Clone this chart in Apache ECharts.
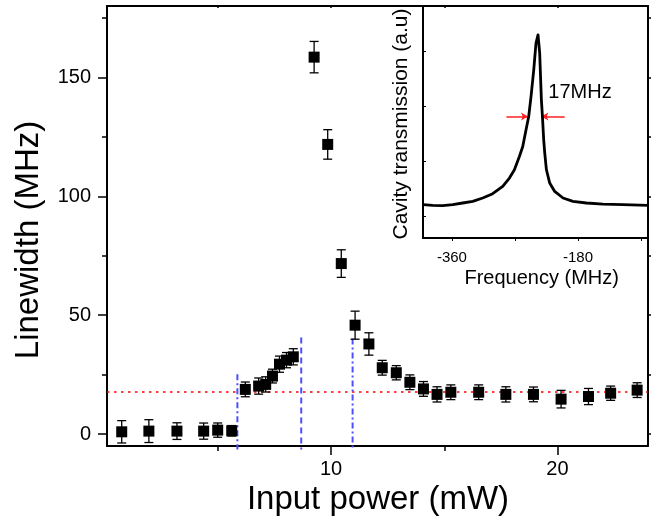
<!DOCTYPE html>
<html>
<head>
<meta charset="utf-8">
<script src="https://cdn.jsdelivr.net/npm/echarts@6/dist/echarts.min.js"></script>
<style>html,body{margin:0;padding:0;background:#fff;}#c{width:656px;height:523px;}</style>
</head>
<body>
<div id="c"></div>
<script>
// ---- main panel data ----
const inputPower = [0.75,1.95,3.19,4.37,4.99,5.61,6.21,6.80,7.11,7.41,7.72,8.03,8.33,9.25,9.85,10.45,11.06,11.67,12.26,12.88,13.48,14.08,14.68,15.29,16.52,17.72,18.94,20.16,21.37,22.35,23.52];
const linewidth = [0.97,1.26,1.26,1.26,1.68,1.39,18.8,20.2,20.9,24.4,29.4,31.1,32.5,158.5,121.8,71.7,45.8,37.9,27.9,25.8,21.8,19.0,16.7,17.6,17.6,16.7,16.7,14.7,15.8,17.2,18.5];
const linewidthErr = [4.7,4.8,3.5,3.4,3.0,2.2,3.1,3.4,3.2,2.9,3.4,3.2,3.4,6.6,6.2,5.8,5.9,4.7,3.1,3.0,3.1,3.1,3.2,3.1,3.1,3.2,3.1,3.7,3.4,3.0,3.1];
const refLinewidth = 17.7;
const vLineX = [5.86, 8.68, 10.95];
const vLineTop = [25.2, 40.6, 40.2];
const xMajorTicks = [10, 20];
const xMinorTicks = [5, 15];
const yMajorTicks = [0, 50, 100, 150];
const yMinorTicks = [25, 75, 125, 175];

// ---- inset data ----
const insetFreq = [-401.3,-387.4,-373.1,-358.9,-344.6,-330.3,-316.0,-301.8,-287.5,-277.9,-270.8,-263.7,-258.9,-254.2,-250.4,-247.1,-243.2,-240.0,-237.1,-234.7,-232.3,-230.8,-229.0,-227.5,-225.1,-220.4,-213.3,-201.4,-187.2,-168.0,-144.3,-115.8,-80.1];
const insetTrans = [0.213,0.200,0.195,0.213,0.244,0.273,0.335,0.413,0.545,0.698,0.849,1.091,1.273,1.576,1.818,2.182,2.667,3.153,3.304,2.971,2.122,1.818,1.395,1.153,0.849,0.607,0.455,0.335,0.273,0.244,0.225,0.213,0.200];
const insetXTicks = [-360, -270, -180, -90];
const insetXLabels = [-360, -180];
const insetYTicks = [0, 1, 2, 3];
const fwhmArrowY = 1.818;
const fwhmArrowLeft = [-282.2, -251.4];
const fwhmArrowRight = [-199.0, -232.3];

const FONT = 'Liberation Sans, Arial, sans-serif';
const chart = echarts.init(document.getElementById('c'), null, {renderer: 'canvas'});

const points = inputPower.map((x, i) => [x, linewidth[i]]);
const errData = inputPower.map((x, i) => [x, linewidth[i], linewidthErr[i]]);
const insetData = insetFreq.map((f, i) => [f, insetTrans[i]]);

const vLineStyles = [[6,3,2,3],[6,4],[6,3,2,3]];
const vSeries = vLineX.map((x, i) => ({
  type: 'line', xAxisIndex: 0, yAxisIndex: 0, symbol: 'none', silent: true, clip: false, z: 1,
  data: [[x, vLineTop[i]], [x, -6.5]],
  lineStyle: {color: '#4f4fff', width: 2, type: vLineStyles[i]}
}));

const blk = {color: '#000', width: 1.5};
const option = {
  animation: false,
  backgroundColor: '#fff',
  grid: [
    {left: 107, top: 6, right: 8, bottom: 77, containLabel: false},
    {left: 423, top: 6, right: 8, bottom: 285, containLabel: false}
  ],
  xAxis: [
    {gridIndex: 0, type: 'value', position: 'bottom', min: 0.1, max: 24,
     axisLine: {show: true, onZero: false, lineStyle: {color: '#000', width: 2}},
     axisTick: {show: true, customValues: xMajorTicks, length: 9, lineStyle: blk},
     axisLabel: {show: true, customValues: xMajorTicks, fontSize: 20, fontFamily: FONT, color: '#000', margin: 13},
     splitLine: {show: false}},
    {gridIndex: 0, type: 'value', position: 'bottom', min: 0.1, max: 24,
     axisLine: {show: false, onZero: false},
     axisTick: {show: true, customValues: xMinorTicks, length: 5, lineStyle: blk},
     axisLabel: {show: false}, splitLine: {show: false}},
    {gridIndex: 0, type: 'value', position: 'top', min: 0.1, max: 24,
     axisLine: {show: true, onZero: false, lineStyle: {color: '#000', width: 2}},
     axisTick: {show: true, inside: true, customValues: [5,10,15,20], length: 2, lineStyle: blk},
     axisLabel: {show: false}, splitLine: {show: false}},
    {gridIndex: 1, type: 'value', position: 'bottom', min: -401.3, max: -80.1,
     axisLine: {show: true, onZero: false, lineStyle: {color: '#000', width: 2}},
     axisTick: {show: true, customValues: insetXTicks, length: 3, lineStyle: {color: '#000', width: 1}},
     axisLabel: {show: true, customValues: insetXLabels, fontSize: 15, fontFamily: FONT, color: '#000', margin: 12},
     splitLine: {show: false}}
  ],
  yAxis: [
    {gridIndex: 0, type: 'value', position: 'left', min: -5, max: 180,
     axisLine: {show: true, onZero: false, lineStyle: {color: '#000', width: 2}},
     axisTick: {show: true, customValues: yMajorTicks, length: 9, lineStyle: blk},
     axisLabel: {show: true, customValues: yMajorTicks, fontSize: 20, fontFamily: FONT, color: '#000', margin: 16},
     splitLine: {show: false}},
    {gridIndex: 0, type: 'value', position: 'left', min: -5, max: 180,
     axisLine: {show: false, onZero: false},
     axisTick: {show: true, customValues: yMinorTicks, length: 5, lineStyle: blk},
     axisLabel: {show: false}, splitLine: {show: false}},
    {gridIndex: 0, type: 'value', position: 'right', min: -5, max: 180,
     axisLine: {show: true, onZero: false, lineStyle: {color: '#000', width: 2}},
     axisTick: {show: true, customValues: yMajorTicks.concat(yMinorTicks), length: 3, lineStyle: blk},
     axisLabel: {show: false}, splitLine: {show: false}},
    {gridIndex: 1, type: 'value', position: 'left', min: -0.393, max: 3.83,
     axisLine: {show: true, onZero: false, lineStyle: {color: '#000', width: 2}},
     axisTick: {show: true, inside: true, customValues: insetYTicks, length: 3, lineStyle: {color: '#000', width: 1}},
     axisLabel: {show: false}, splitLine: {show: false}}
  ],
  series: [
    {type: 'line', xAxisIndex: 0, yAxisIndex: 0, symbol: 'none', silent: true, z: 1,
     data: [[0.1, refLinewidth], [24, refLinewidth]],
     lineStyle: {color: '#ff0000', width: 1.5, type: [2.5, 4.5]}},
    ...vSeries,
    {type: 'custom', coordinateSystem: 'cartesian2d', xAxisIndex: 0, yAxisIndex: 0, z: 3,
     encode: {x: 0, y: 1},
     data: errData,
     renderItem: function (params, api) {
       const x = api.value(0), y = api.value(1), e = api.value(2);
       const t = api.coord([x, y + e]);
       const b = api.coord([x, y - e]);
       const hw = 4.5;
       const st = {stroke: '#000', lineWidth: 1.3};
       return {type: 'group', children: [
         {type: 'line', shape: {x1: t[0], y1: t[1], x2: b[0], y2: b[1]}, style: st},
         {type: 'line', shape: {x1: t[0] - hw, y1: t[1], x2: t[0] + hw, y2: t[1]}, style: st},
         {type: 'line', shape: {x1: b[0] - hw, y1: b[1], x2: b[0] + hw, y2: b[1]}, style: st}
       ]};
     }},
    {type: 'scatter', xAxisIndex: 0, yAxisIndex: 0, z: 4, symbol: 'rect', symbolSize: 11,
     itemStyle: {color: '#000', opacity: 1}, data: points},
    {type: 'line', xAxisIndex: 3, yAxisIndex: 3, symbol: 'none', z: 5,
     data: insetData, lineStyle: {color: '#000', width: 2.8, join: 'round'},
     markLine: {silent: true, symbol: ['none', 'arrow'], symbolSize: [6, 7], label: {show: false},
       lineStyle: {color: '#ff2020', width: 1.5, type: 'solid'},
       data: [
         [{coord: [fwhmArrowLeft[0], fwhmArrowY]}, {coord: [fwhmArrowLeft[1], fwhmArrowY]}],
         [{coord: [fwhmArrowRight[0], fwhmArrowY]}, {coord: [fwhmArrowRight[1], fwhmArrowY]}]
       ]}}
  ],
  graphic: [
    {type: 'text', x: 29, y: 240, rotation: Math.PI / 2, z: 10,
     style: {text: 'Linewidth (MHz)', font: '33px ' + FONT, fill: '#000', textAlign: 'center', textVerticalAlign: 'middle'}},
    {type: 'text', x: 378, y: 500, z: 10,
     style: {text: 'Input power (mW)', font: '33px ' + FONT, fill: '#000', textAlign: 'center', textVerticalAlign: 'middle'}},
    {type: 'text', x: 541.7, y: 278, z: 10,
     style: {text: 'Frequency (MHz)', font: '20px ' + FONT, fill: '#000', textAlign: 'center', textVerticalAlign: 'middle'}},
    {type: 'text', x: 401.7, y: 124, rotation: Math.PI / 2, z: 10,
     style: {text: 'Cavity transmission (a.u)', font: '21px ' + FONT, fill: '#000', textAlign: 'center', textVerticalAlign: 'middle'}},
    {type: 'text', x: 548.3, y: 92.5, z: 10,
     style: {text: '17MHz', font: '20px ' + FONT, fill: '#000', textAlign: 'left', textVerticalAlign: 'middle'}}
  ]
};
chart.setOption(option);
</script>
</body>
</html>
